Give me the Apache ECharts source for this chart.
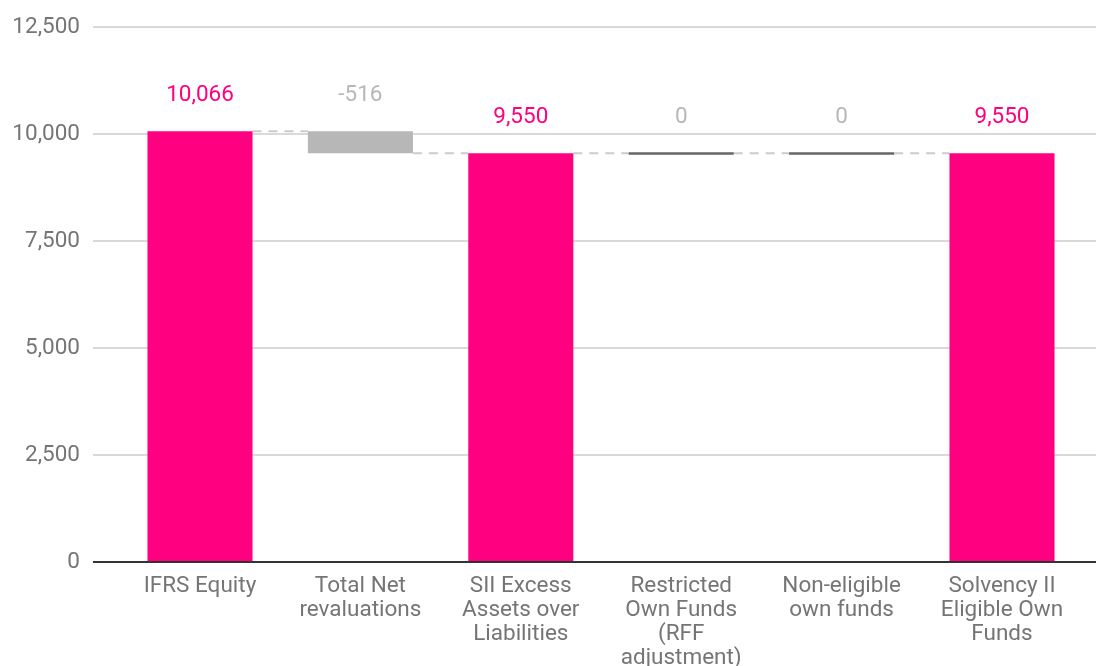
<!DOCTYPE html>
<html>
<head>
<meta charset="utf-8">
<script src="https://cdn.jsdelivr.net/npm/echarts@6/dist/echarts.min.js"></script>
<style>
  html, body { margin: 0; padding: 0; background: #fff; }
  #chart { width: 1096px; height: 666px; }
</style>
</head>
<body>
<div id="chart"></div>
<script>
const categories = [
  "IFRS Equity",
  "Total Net\nrevaluations",
  "SII Excess\nAssets over\nLiabilities",
  "Restricted\nOwn Funds\n(RFF\nadjustment)",
  "Non-eligible\nown funds",
  "Solvency II\nEligible Own\nFunds",
];
const values = [10066, -516, 9550, 0, 0, 9550];
// "total" bars start at zero, "step" bars float from the previous running total
const kinds = ["total", "step", "total", "step", "step", "total"];
const yTicks = [0, 2500, 5000, 7500, 10000, 12500];

const PINK = "#ff0080";
const STEP_GREY = "#b7b7b7";
const fmt = (v) => v.toLocaleString("en-US");

// running totals -> [index, start, end, isTotal, raw]
let running = 0;
const rows = values.map((v, i) => {
  let start, end;
  if (kinds[i] === "total") {
    start = 0;
    end = v;
  } else {
    start = running;
    end = running + v;
  }
  running = end;
  return [i, start, end, kinds[i] === "total" ? 1 : 0, v];
});

const chart = echarts.init(document.getElementById("chart"));

const barRatio = 0.655;
const X_MIN = -0.667;
const X_MAX = 5.586;

chart.setOption({
  animation: false,
  backgroundColor: "#fff",
  textStyle: { fontFamily: "Roboto" },
  grid: { left: 93, right: 0, top: 27, bottom: 104, outerBoundsMode: "none" },
  xAxis: {
    type: "value",
    min: X_MIN,
    max: X_MAX,
    splitLine: { show: false },
    axisLine: { show: false },
    axisTick: { show: false },
    axisLabel: {
      customValues: categories.map((_, i) => i),
      formatter: (v) => categories[Math.round(v)],
      color: "#757575",
      fontSize: 22.5,
      lineHeight: 24,
      margin: 12,
    },
  },
  yAxis: {
    type: "value",
    min: yTicks[0],
    max: yTicks[yTicks.length - 1],
    interval: 2500,
    axisLine: { show: false },
    axisTick: { show: false },
    axisLabel: {
      formatter: (v) => fmt(v),
      color: "#757575",
      fontSize: 22.5,
      margin: 13,
    },
    splitLine: { lineStyle: { color: "#cccccc", width: 1.5 } },
  },
  series: [
    {
      type: "custom",
      data: rows,
      clip: false,
      renderItem: (params, api) => {
        const i = api.value(0);
        const start = api.value(1);
        const end = api.value(2);
        const isTotal = api.value(3) === 1;
        const raw = api.value(4);
        const unit = api.size([1, 0])[0];
        const half = (unit * barRatio) / 2;
        const pTop = api.coord([i, Math.max(start, end)]);
        const pBot = api.coord([i, Math.min(start, end)]);
        const children = [];

        // dashed connector to the next bar
        if (i < rows.length - 1) {
          const pEnd = api.coord([i, end]);
          const pNext = api.coord([i + 1, end]);
          children.push({
            type: "line",
            shape: { x1: pEnd[0] + half, y1: pEnd[1], x2: pNext[0] - half, y2: pNext[1] },
            style: { stroke: "#cccccc", lineWidth: 2, lineDash: [9, 7] },
          });
        }

        if (start === end) {
          children.push({
            type: "rect",
            shape: { x: pTop[0] - half, y: pTop[1] - 1, width: half * 2, height: 2.5 },
            style: { fill: "#666666" },
          });
        } else {
          children.push({
            type: "rect",
            shape: { x: pTop[0] - half, y: pTop[1], width: half * 2, height: pBot[1] - pTop[1] },
            style: { fill: isTotal ? PINK : STEP_GREY },
          });
        }

        children.push({
          type: "text",
          style: {
            x: pTop[0],
            y: pTop[1] - 36,
            text: fmt(raw),
            fill: isTotal ? PINK : STEP_GREY,
            font: "22.5px Roboto",
            align: "center",
            verticalAlign: "middle",
          },
        });

        return { type: "group", children };
      },
    },
    {
      // baseline at zero
      type: "line",
      data: [[X_MIN, 0], [X_MAX, 0]],
      symbol: "none",
      silent: true,
      lineStyle: { color: "#333333", width: 2 },
      z: 3,
    },
  ],
});
</script>
</body>
</html>
